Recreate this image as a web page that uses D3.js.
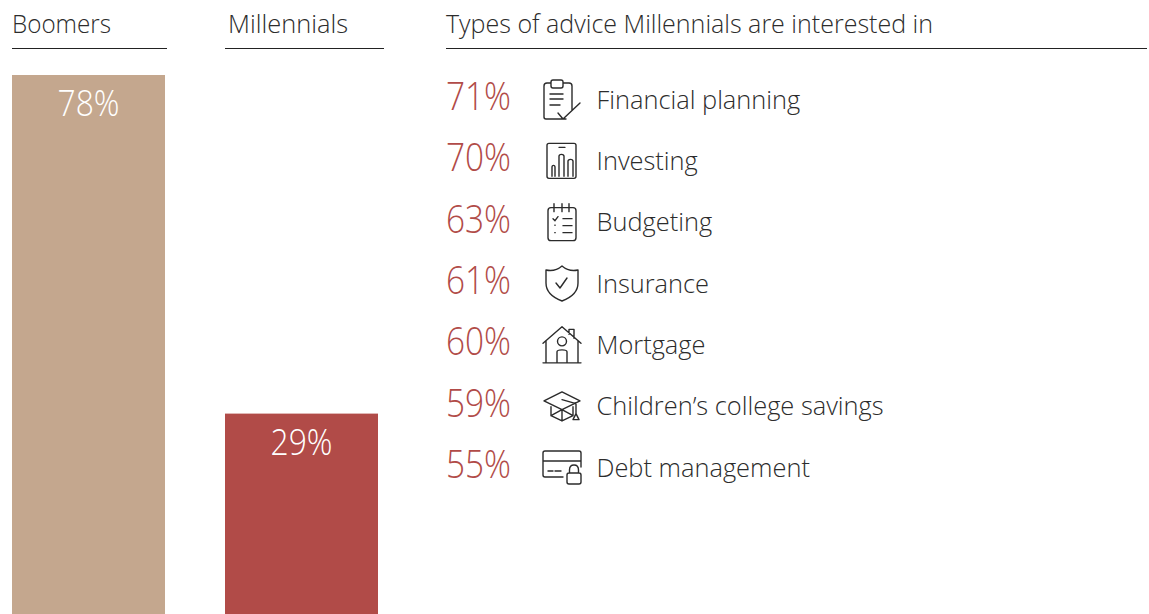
<!DOCTYPE html>
<html>
<head>
<meta charset="utf-8">
<script src="https://cdn.jsdelivr.net/npm/d3@7"></script>
<style>
html,body{margin:0;padding:0;background:#fff;overflow:hidden}
svg{display:block}
text{font-family:"Open Sans","Noto Sans",sans-serif;font-weight:300}
</style>
</head>
<body>
<svg id="chart" width="1149" height="614"></svg>
<script>
// Share of each generation working with an adviser
const generations = ["Boomers", "Millennials"];
const generationShares = [78, 29];
const generationColors = ["#c4a78e", "#b14b48"];

// Advice topics, ranked
const adviceHeading = "Types of advice Millennials are interested in";
const adviceTopics = ["Financial planning", "Investing", "Budgeting", "Insurance", "Mortgage", "Children\u2019s college savings", "Debt management"];
const adviceShares = [71, 70, 63, 61, 60, 59, 55];
const adviceIcons = ["clipboard", "tablet", "checklist", "shield", "house", "cap", "card"];

const INK = "#2c2c2c", ACCENT = "#b14b48";
const svg = d3.select("#chart");

// Left-hand bars
const x = d3.scaleOrdinal().domain(generations).range([12, 225]);
const y = d3.scaleLinear().domain([0, 78]).range([614, 75]);
const barWidth = 153;

function heading(str, tx, x1, x2, len) {
  svg.append("text").attr("x", tx).attr("y", 33).attr("font-size", 25).attr("fill", INK)
    .attr("textLength", len).attr("lengthAdjust", "spacingAndGlyphs").text(str);
  svg.append("line").attr("x1", x1).attr("x2", x2).attr("y1", 48.5).attr("y2", 48.5)
    .attr("stroke", "#222").attr("stroke-width", 1.2);
}
heading("Boomers", 12, 12, 167, 99);
heading("Millennials", 228, 225, 384, 120);
heading(adviceHeading, 446, 446, 1147, 487);

svg.selectAll("rect.bar").data(generations).join("rect")
  .attr("class", "bar")
  .attr("x", d => x(d))
  .attr("width", barWidth)
  .attr("y", (d, i) => y(generationShares[i]))
  .attr("height", (d, i) => y(0) - y(generationShares[i]))
  .attr("fill", (d, i) => generationColors[i]);

svg.selectAll("text.barval").data(generations).join("text")
  .attr("class", "barval")
  .attr("x", d => x(d) + barWidth / 2)
  .attr("y", (d, i) => y(generationShares[i]) + 41)
  .attr("text-anchor", "middle")
  .attr("font-size", 37)
  .attr("fill", "#fff")
  .attr("textLength", 62).attr("lengthAdjust", "spacingAndGlyphs")
  .text((d, i) => generationShares[i] + "%");

// Right-hand ranked list
const row = d3.scalePoint().domain(adviceTopics).range([96, 464]);

// Line icons, drawn in a 40-unit box centred on the origin
const iconPaths = {
  clipboard: "M-11-18h-4q-3 0-3 3v31q0 2 2 2h20M1-18h6q3 0 3 3v24M-11-19q0-2 2-2h8q2 0 2 2v4q0 2-2 2h-8q-2 0-2-2zM-12-7h13M-12-2h13M-12 4h10M-4 12l5 6 17-16",
  tablet: "M-13-19h25q2 0 2 2v31q0 2-2 2h-25q-2 0-2-2v-31q0-2 2-2zM-3-15h6M-10 14v-9q0-2 1.500-2t1.500 2v9M-3 14v-20q0-2 2.500-2t2.500 2v20M6 14v-15q0-2 2.500-2t2.500 2v15",
  checklist: "M-11-16q-3 0-3 3v27q0 3 3 3h22q3 0 3-3v-27q0-3-3-3zM-8-20v8M0-20v8M7-20v8M-9-5l2 2 3-4M1-5h9M1 2h9M1 9h9M-7.200 1.500h.4M-7.200 9h.4",
  shield: "M0-19q-7 6-16 4v13q0 12 16 18 16-6 16-18v-13q-9 2-16-4zM-6-2l4 5 7-10",
  house: "M-19-3L0-19.500 19-3M-16-6v22M16-6v22M-19 16.500h38M-5 16.500v-11q0-2 5-2t5 2v11M7-12v-5h5v9M-4.500-5a4.500 4.500 0 1 0 9 0a4.500 4.500 0 1 0-9 0z",
  cap: "M0-15.700L-18-6.700 0 2 18-6.700zM-11-1v9L0 13.300 11 8v-9M-11 8L0 2 11 8M0 2v11.300M0-8l14 4v10M14 6l-3 6h6z",
  card: "M-19-8h38M1 8h-18q-2 0-2-2v-22q0-2 2-2h34q2 0 2 2v14M-14 2h5M-7 2h6M7 4h10q2 0 2 2v7q0 2-2 2h-10q-2 0-2-2v-7q0-2 2-2zM7.500 4v-3q0-5 4.500-5t4.500 5v3"
};

const rows = svg.selectAll("g.topic").data(adviceTopics).join("g")
  .attr("class", "topic")
  .attr("transform", d => `translate(0,${row(d)})`);

rows.append("text")
  .attr("x", 446).attr("y", 14)
  .attr("font-size", 39).attr("fill", ACCENT)
  .attr("textLength", 65).attr("lengthAdjust", "spacingAndGlyphs")
  .text((d, i) => adviceShares[i] + "%");

rows.append("path")
  .attr("transform", "translate(562,5)")
  .attr("d", (d, i) => iconPaths[adviceIcons[i]])
  .attr("fill", "none").attr("stroke", "#2b2b2b").attr("stroke-width", 1.4)
  .attr("stroke-linejoin", "round").attr("stroke-linecap", "round");

rows.append("text")
  .attr("x", 596.5).attr("y", 12.7)
  .attr("font-size", 25.4).attr("fill", INK)
  .text(d => d);
</script>
</body>
</html>
